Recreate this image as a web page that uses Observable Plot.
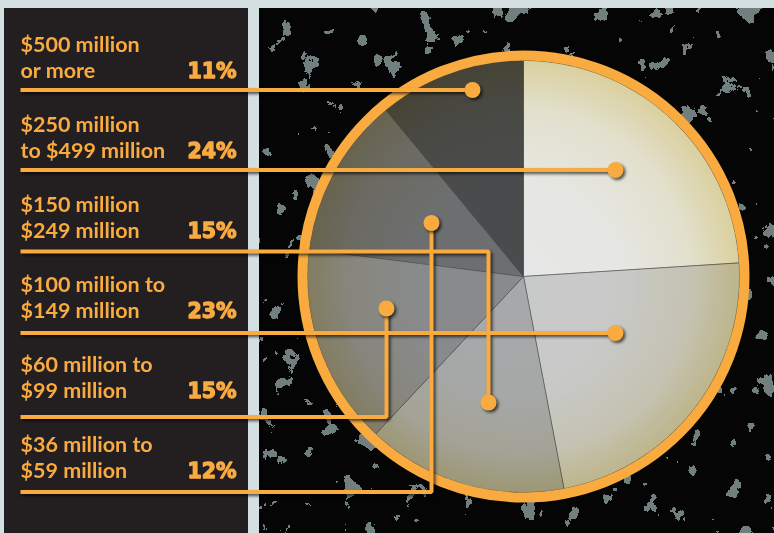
<!DOCTYPE html>
<html><head><meta charset="utf-8">
<script src="https://cdn.jsdelivr.net/npm/d3@7"></script>
<script src="https://cdn.jsdelivr.net/npm/@observablehq/plot@0.6"></script>
<style>
html,body{margin:0;padding:0;background:#d3dfe1;}
#chart{width:774px;height:533px;}
</style></head><body><div id="chart"></div>
<script>
// ---- data ----
const labelLine1 = ["$500 million", "$250 million", "$150 million", "$100 million to", "$60 million to", "$36 million to"];
const labelLine2 = ["or more", "to $499 million", "$249 million", "$149 million", "$99 million", "$59 million"];
const shares = [11, 24, 15, 23, 15, 12];
// clockwise order of slices from 12 o'clock (indexes into the label arrays)
const pieOrder = [1, 3, 2, 4, 5, 0];

// ---- style / layout ----
const W = 774, H = 533;
const ORANGE = "#f9ab40";
const sliceColors = ["#4a4b4d", "#e6e7e8", "#a6a8ab", "#c8c9cb", "#898a8d", "#6d6e71"];
const pie = {cx: 523, cy: 276, r: 216, ring: 221};
// leader line layout per category: horizontal rule y, and dot position
const leaderLayout = [
  {lineY: 89.5, dotX: 472, dotY: 89.5},
  {lineY: 169.5, dotX: 615, dotY: 169.5},
  {lineY: 251, dotX: 488, dotY: 402},
  {lineY: 332.5, dotX: 615, dotY: 332.5},
  {lineY: 416.5, dotX: 386, dotY: 308},
  {lineY: 491.5, dotX: 431, dotY: 222.5}
];
const rowBase = 77, rowStep = 80, lineGap = 26, labelX = 20, pctX = 236, ruleX0 = 20;

// pie polygons derived from shares
const slicePts = [];
let acc = 0;
pieOrder.forEach(ci => {
  const a0 = acc / 100 * 360, a1 = (acc + shares[ci]) / 100 * 360;
  acc += shares[ci];
  slicePts.push({cat: ci, x: pie.cx, y: pie.cy});
  const n = 80;
  for (let k = 0; k <= n; k++) {
    const a = (a0 + (a1 - a0) * k / n) * Math.PI / 180;
    slicePts.push({cat: ci, x: pie.cx + pie.r * Math.sin(a), y: pie.cy - pie.r * Math.cos(a)});
  }
  slicePts.push({cat: ci, x: pie.cx, y: pie.cy});
});

const leaderPts = [];
leaderLayout.forEach((L, i) => {
  leaderPts.push({cat: i, x: ruleX0, y: L.lineY});
  leaderPts.push({cat: i, x: L.dotX, y: L.lineY});
  leaderPts.push({cat: i, x: L.dotX, y: L.dotY});
});
const idx = shares.map((_, i) => i);
const labelFont = {textAnchor: "start", fontSize: 21.5, fontFamily: "Lato", fontWeight: "bold", fill: ORANGE};

const plot = Plot.plot({
  width: W, height: H,
  marginTop: 0, marginRight: 0, marginBottom: 0, marginLeft: 0,
  x: {domain: [0, W], range: [0, W], axis: null},
  y: {domain: [0, H], range: [0, H], axis: null},
  color: {type: "identity"},
  style: {background: "transparent", overflow: "visible"},
  marks: [
    Plot.line(slicePts, {x: "x", y: "y", z: "cat", fill: d => sliceColors[d.cat], stroke: "#58595b", strokeWidth: 0.6}),
    Plot.dot([pie], {x: "cx", y: "cy", r: pie.r, fill: "url(#tint)", stroke: null, mixBlendMode: "multiply"}),
    Plot.dot([pie], {x: "cx", y: "cy", r: pie.ring, fill: "none", stroke: ORANGE, strokeWidth: 10}),
    Plot.line(leaderPts, {x: "x", y: "y", z: "cat", stroke: ORANGE, strokeWidth: 4, strokeLinejoin: "miter", strokeLinecap: "butt", ariaDescription: "leader"}),
    Plot.dot(leaderLayout, {x: "dotX", y: "dotY", r: 8, fill: ORANGE, stroke: null, ariaDescription: "leader"}),
    Plot.text(idx, {x: () => labelX, y: i => rowBase + i * rowStep - lineGap, text: i => labelLine1[i], lineAnchor: "bottom", ...labelFont}),
    Plot.text(idx, {x: () => labelX, y: i => rowBase + i * rowStep, text: i => labelLine2[i], lineAnchor: "bottom", ...labelFont}),
    Plot.text(idx, {x: () => pctX, y: i => rowBase + i * rowStep, text: i => shares[i] + "%", textAnchor: "end", lineAnchor: "bottom", fontSize: 20.5, fontFamily: "DejaVu Sans", fontWeight: "bold", fill: ORANGE, stroke: ORANGE, strokeWidth: 1.3})
  ]
});

// backgrounds and defs
const svg = d3.select(plot);
const defs = svg.insert("defs", ":first-child");
const g = defs.append("radialGradient").attr("id", "tint").attr("gradientUnits", "userSpaceOnUse")
  .attr("cx", pie.cx).attr("cy", pie.cy).attr("r", pie.r).attr("fx", pie.cx - 20).attr("fy", pie.cy + 20);
[[0, "#ffffff"], [0.5, "#fffffa"], [0.8, "#fbf7e0"], [1, "#f2e6ae"]].forEach(([o, c]) => g.append("stop").attr("offset", o).attr("stop-color", c));
const f = defs.append("filter").attr("id", "tex").attr("x", 0).attr("y", 0).attr("width", "100%").attr("height", "100%");
f.append("feTurbulence").attr("type", "fractalNoise").attr("baseFrequency", "0.05 0.04").attr("numOctaves", 6).attr("seed", 11);
f.append("feColorMatrix").attr("type", "matrix").attr("values", "0 0 0 0 0.17  0 0 0 0 0.21  0 0 0 0 0.21  1 0 0 0 0");
f.append("feComponentTransfer").append("feFuncA").attr("type", "discrete").attr("tableValues", "0 0 0 0 0 0 0 0 0 0 0 1 1 1 1 1");
const bg = svg.insert("g", "defs + *");
bg.append("rect").attr("x", 0).attr("y", 0).attr("width", W).attr("height", H).attr("fill", "#d3dfe1");
bg.append("rect").attr("x", 4).attr("y", 8).attr("width", 244).attr("height", H - 8).attr("fill", "#231f20");
bg.append("rect").attr("x", 259).attr("y", 8).attr("width", W - 259).attr("height", H - 8).attr("fill", "#050505");
bg.append("rect").attr("x", 259).attr("y", 8).attr("width", W - 259).attr("height", H - 8).attr("fill", "#000").attr("filter", "url(#tex)");
svg.selectAll("[aria-description=leader]").style("filter", "drop-shadow(2px 2.5px 1.5px rgba(0,0,0,0.65))");

document.getElementById("chart").append(plot);
</script></body></html>
